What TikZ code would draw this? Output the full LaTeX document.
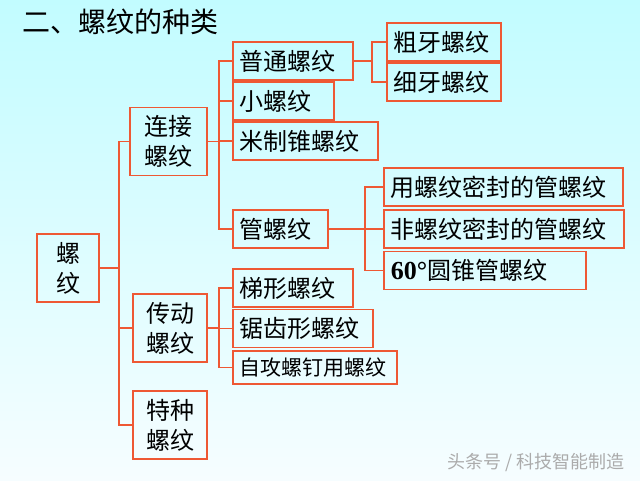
\documentclass[tikz,border=0pt]{standalone}
\usepackage{fontspec}
\setmainfont{Noto Sans CJK SC}
\newfontfamily\numfont{Liberation Serif}
\begin{document}
\begin{tikzpicture}[x=1pt,y=-1pt,
    % estilos de las cajas
    caja/.style={draw=linered, line width=1.8pt, inner sep=0pt, align=center,
        font=\fontsize{24}{30}\selectfont},
    hoja/.style={draw=linered, line width=1.8pt, inner xsep=7pt, inner ysep=0pt,
        minimum height=38pt, anchor=west, align=left,
        font=\fontsize{24}{28}\selectfont},
    rama/.style={draw=linered, line width=1.8pt}]

    % Colores
    \definecolor{linered}{RGB}{238,88,52}
    \definecolor{bgtop}{RGB}{194,252,255}
    \definecolor{bgbot}{RGB}{246,253,255}

    % Fondo
    \shade[top color=bgtop, bottom color=bgbot] (0,0) rectangle (640,480);
    \useasboundingbox (0,0) rectangle (640,480);

    % Título
    \node[anchor=west, font=\fontsize{28}{30}\selectfont] (titulo) at (19,22) {二、螺纹的种类};

    % 1. Nivel raíz y segundo nivel
    \node[caja, minimum width=62pt, minimum height=68pt] (luowen) at (68,268) {螺\\纹};
    \node[caja, minimum width=77pt, minimum height=68pt] (lianjie) at (168.5,141.5) {连接\\螺纹};
    \node[caja, minimum width=74pt, minimum height=68pt] (chuandong) at (170,328) {传动\\螺纹};
    \node[caja, minimum width=74pt, minimum height=68pt] (tezhong) at (170,425) {特种\\螺纹};

    % 2. Hojas de螺纹连接
    \node[hoja, text width=106pt] (putong) at (232,61) {普通螺纹};
    \node[hoja, text width=87pt] (xiao) at (232,101) {小螺纹};
    \node[hoja, text width=131pt] (mizhi) at (232,141) {米制锥螺纹};
    \node[hoja, text width=81pt] (guan) at (232,229) {管螺纹};

    % 3. Roscas gruesa y fina
    \node[hoja, text width=100pt] (cuya) at (386,42) {粗牙螺纹};
    \node[hoja, text width=100pt] (xiya) at (386,82) {细牙螺纹};

    % 4. Roscas de tubo
    \node[hoja, text width=225pt] (mifeng) at (383,187) {用螺纹密封的管螺纹};
    \node[hoja, text width=226pt] (feimifeng) at (383,229) {非螺纹密封的管螺纹};
    \node[hoja, text width=188pt] (yuanzhui) at (383,270.5) {{\numfont\bfseries\fontsize{26}{28}\selectfont 60°}圆锥管螺纹};

    % 5. Roscas de transmisión
    \node[hoja, text width=106pt] (tixing) at (232,288) {梯形螺纹};
    \node[hoja, text width=126pt] (juchi) at (232,328.5) {锯齿形螺纹};
    \node[hoja, text width=150pt, minimum height=33pt,
          font=\fontsize{21}{24}\selectfont] (zigong) at (232,367.5) {自攻螺钉用螺纹};

    % 6. Ramas
    \foreach \hijo in {lianjie, chuandong, tezhong}
        \draw[rama] (luowen.east) -- ++(19,0) |- (\hijo.west);
    \foreach \hijo in {putong, xiao, mizhi, guan}
        \draw[rama] (lianjie.east) -- ++(11,0) |- (\hijo.west);
    \foreach \hijo in {tixing, juchi, zigong}
        \draw[rama] (chuandong.east) -- ++(11,0) |- (\hijo.west);
    \foreach \hijo in {cuya, xiya}
        \draw[rama] (putong.east) -- ++(18,0) |- (\hijo.west);
    \foreach \hijo in {mifeng, feimifeng, yuanzhui}
        \draw[rama] (guan.east) -- ++(36,0) |- (\hijo.west);

    % Marca de agua
    \node[anchor=west, text=black!33, font=\fontsize{18}{20}\selectfont] (marca) at (444,463) {头条号 / 科技智能制造};

\end{tikzpicture}
\end{document}
